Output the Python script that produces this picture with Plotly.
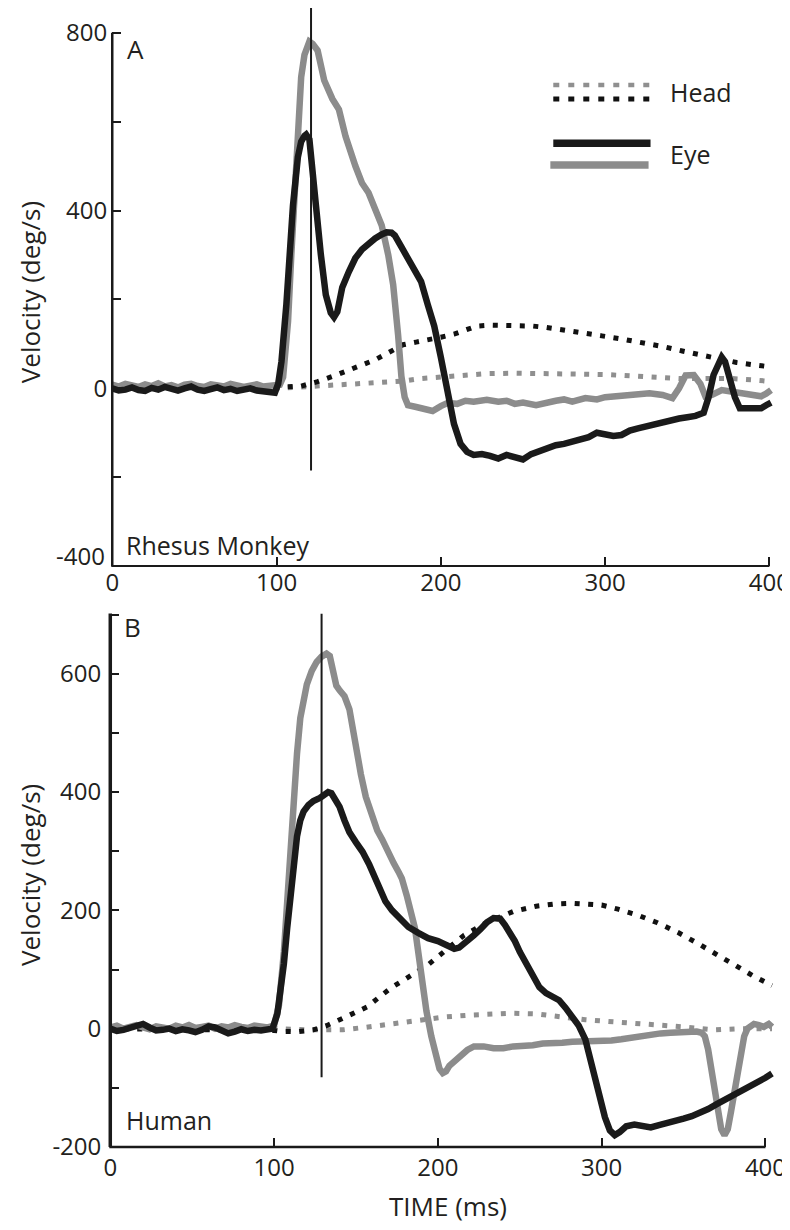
import plotly.graph_objects as go

# ---------------- DATA ----------------
# Panel A (Rhesus Monkey)
a_eye_blk_t = [0, 4, 8, 12, 16, 20, 24, 28, 32, 36, 40, 44, 48, 52, 56, 60, 64, 68, 72, 76, 80, 84, 88, 92, 96, 99,
               101, 103, 106, 108, 110, 113, 115, 117, 118, 120, 122, 124, 127, 130, 133, 135, 137, 140, 144, 148, 152,
               155, 160, 164, 167, 170, 172, 176, 180, 184, 188, 192, 196, 200, 204, 208, 212, 216, 220, 225, 230, 235,
               240, 245, 250, 255, 260, 265, 270, 275, 280, 285, 290, 295, 300, 305, 310, 315, 320, 325, 330, 335, 340,
               345, 350, 355, 360, 363, 366, 369, 371, 373, 376, 379, 382, 386, 390, 395, 398, 401]
a_eye_blk_v = [0, -5, -3, 2, -4, -6, 1, -3, 3, -2, -5, 0, 4, -3, -6, -2, 2, -4, -1, -6, -3, 0, -5, -8, -11, -10,
               10, 60, 189, 300, 411, 520, 555, 568, 571, 560, 500, 411, 300, 210, 170, 160, 172, 227, 262, 293, 312,
               322, 337, 346, 351, 350, 344, 318, 290, 265, 240, 189, 140, 70, -10, -80, -125, -143, -150, -148, -152,
               -158, -150, -155, -160, -148, -140, -135, -128, -125, -120, -115, -110, -100, -103, -107, -105, -95, -90,
               -85, -82, -75, -72, -68, -65, -62, -55, -20, 30, 60, 70, 60, 20, -20, -45, -45, -42, -45, -38, -32]

a_eye_gry_t = [0, 4, 8, 12, 16, 20, 24, 28, 32, 36, 40, 44, 48, 52, 56, 60, 64, 68, 72, 76, 80, 84, 88, 92, 96, 100,
               102, 104, 107, 109, 111, 113, 115, 117, 120, 122, 125, 129, 134, 138, 142, 148, 152, 156, 160, 164, 168,
               171, 174, 176, 178, 180, 185, 190, 195, 200, 204, 210, 215, 220, 228, 235, 240, 245, 250, 258, 265, 270,
               275, 280, 288, 295, 300, 310, 320, 327, 335, 341, 345, 349, 354, 358, 361, 365, 371, 377, 383, 390, 395,
               398, 401]
a_eye_gry_v = [8, 4, 10, 6, 3, 9, 5, 11, 4, 7, 2, 8, 10, 5, 3, 9, 6, 4, 10, 7, 3, 6, 9, 4, 6, 5,
               8, 25, 150, 300, 450, 600, 700, 750, 780, 775, 760, 693, 651, 627, 567, 500, 462, 440, 405, 367, 300,
               233, 120, 27, -20, -38, -42, -48, -51, -40, -33, -35, -28, -30, -26, -30, -28, -35, -32, -38, -30, -28,
               -25, -30, -22, -25, -20, -18, -14, -11, -15, -22, 0, 29, 30, 10, -18, -15, -4, -8, -11, -16, -18,
               -12, -4]

a_head_blk_t = [0, 25, 50, 75, 100, 115, 125, 135, 144, 152, 160, 168, 177, 185, 192, 200, 208, 215, 222, 230, 240,
                250, 256, 264, 272, 285, 298, 310, 322, 335, 347, 360, 371, 380, 390, 401]
a_head_blk_v = [2, 3, 3, 2, 2, 5, 15, 28, 40, 52, 64, 80, 98, 104, 108, 115, 122, 132, 140, 142, 141,
                142, 140, 137, 133, 126, 118, 111, 104, 94, 84, 73, 63, 58, 53, 48]

a_head_gry_t = [0, 25, 50, 75, 100, 110, 120, 130, 140, 150, 160, 170, 177, 188, 200, 215, 228, 245, 260, 275, 288,
                300, 315, 330, 345, 360, 377, 390, 399]
a_head_gry_v = [0, 1, 0, 1, 0, 2, 4, 5, 8, 10, 13, 15, 16, 22, 26, 30, 33, 34, 33, 33, 33,
                31, 28, 24, 22, 22, 22, 19, 16]

# Panel B (Human)
b_eye_blk_t = [0, 4, 8, 12, 16, 20, 24, 28, 32, 36, 40, 44, 48, 52, 56, 60, 64, 68, 72, 76, 80, 84, 88, 92, 96, 99,
               102, 104, 106, 108, 110, 112, 114, 116, 118, 121, 124, 128, 131, 133, 135, 137, 140, 143, 146, 150, 154,
               158, 162, 165, 168, 172, 176, 182, 188, 194, 200, 205, 210, 213, 217, 222, 226, 230, 234, 238, 241, 244,
               247, 250, 254, 258, 262, 266, 270, 274, 278, 282, 286, 290, 293, 296, 299, 302, 305, 308, 311, 315, 320,
               325, 330, 335, 340, 345, 350, 355, 360, 365, 370, 375, 380, 385, 390, 395, 400, 404]
b_eye_blk_v = [0, -4, -2, 1, 3, 8, 2, -3, -2, 0, -4, -1, -3, -6, -2, 4, 2, -3, -8, -5, -1, -4, -2, -3, -1, 0,
               25, 60, 110, 170, 230, 285, 325, 352, 367, 378, 385, 390, 398, 400, 398, 390, 375, 352, 332, 315, 299,
               278, 254, 230, 215, 200, 188, 172, 162, 153, 148, 142, 135, 137, 148, 158, 168, 180, 187, 186, 175, 162,
               148, 130, 108, 88, 70, 60, 54, 48, 35, 20, 5, -18, -50, -85, -120, -150, -172, -180, -175, -165, -162,
               -165, -167, -163, -160, -157, -152, -148, -143, -136, -128, -121, -113, -105, -97, -90, -83, -76]

b_eye_gry_t = [0, 4, 8, 12, 16, 20, 24, 28, 32, 36, 40, 44, 48, 52, 56, 60, 64, 68, 72, 76, 80, 84, 88, 92, 96, 100,
               103, 106, 108, 110, 112, 114, 116, 118, 120, 123, 126, 129, 132, 134, 136, 138, 140, 143, 146, 148, 150,
               153, 156, 160, 163, 166, 170, 173, 176, 178, 181, 184, 186, 188, 190, 193, 196, 199, 201, 203, 205, 207,
               210, 214, 218, 222, 228, 234, 240, 246, 252, 258, 264, 270, 276, 282, 288, 294, 300, 306, 312, 318, 324,
               330, 336, 342, 348, 354, 358, 361, 363, 365, 367, 369, 371, 373, 375, 377, 379, 381, 383, 385, 387, 389,
               391, 393, 396, 399, 402, 404]
b_eye_gry_v = [2, 5, 0, 3, 6, 2, -1, 4, 3, 0, 5, 2, 6, 1, 3, 5, 0, 4, 2, 6, 3, 1, 5, 4, 2, 5,
               40, 130, 220, 310, 395, 465, 525, 562, 582, 605, 620, 629, 634, 630, 600, 580, 572, 562, 540, 504, 470,
               430, 392, 355, 335, 320, 295, 280, 265, 254, 225, 195, 170, 130, 87, 30, -13, -50, -68, -75, -72, -63,
               -55, -45, -36, -30, -30, -33, -33, -30, -30, -28, -25, -25, -24, -22, -22, -22, -22, -20, -18, -15, -12,
               -10, -8, -7, -6, -5, -5, -7, -13, -35, -65, -100, -140, -170, -180, -170, -140, -108, -70, -35, -13, 0,
               6, 8, 6, 3, 8, 3]

b_head_blk_t = [0, 25, 50, 75, 100, 106, 115, 124, 132, 140, 148, 157, 165, 172, 179, 186, 194, 205, 216, 230, 246,
                260, 272, 282, 292, 300, 310, 322, 334, 347, 360, 370, 380, 392, 404]
b_head_blk_v = [0, -1, 0, -1, -3, -5, -5, -2, 5, 15, 25, 37, 55, 70, 82, 95, 108, 133, 158, 180, 198,
                207, 211, 212, 211, 209, 202, 192, 179, 162, 142, 125, 108, 90, 73]

b_head_gry_t = [0, 25, 50, 75, 100, 110, 120, 130, 142, 155, 170, 182, 190, 205, 220, 230, 245, 260, 275, 290, 310,
                330, 350, 369, 385, 404]
b_head_gry_v = [0, 1, 0, 1, 0, -2, -2, -2, -2, 2, 8, 12, 15, 20, 23, 25, 26, 25, 20, 15, 11,
                8, 3, -2, 0, 0]

# marker lines (saccade onset references)
a_marker_t = 121
a_marker_bottom = -185
b_marker_t = 129
b_marker_bottom = -82

x_ticks = [0, 100, 200, 300, 400]
a_y_ticks = [-400, -200, 0, 200, 400, 600, 800]
a_y_labels = ["", "", "0", "", "400", "", "800"]
a_y_bottom_label = "-400"
b_y_ticks = [-200, -100, 0, 100, 200, 300, 400, 500, 600, 700]
b_y_labels = ["-200", "", "0", "", "200", "", "400", "", "600", ""]

# ---------------- LAYOUT GEOMETRY (pixels) ----------------
W, H = 790, 1230
FONT = "Open Sans"
BLACK = "#1a1a1a"
GRAY = "#8c8c8c"
TXT = "#231f20"

# panel A anchors
A_X0, A_X400 = 99, 768
A_YM400, A_Y800 = 565, 25
# panel B anchors
B_X0, B_X400 = 97, 764
B_YM200, B_Y600 = 1153, 674
B_TOP = 613
X_MAX = 408


def fx(px):
    return px / W


def fy(py):
    return 1 - py / H


a_kx = (A_X400 - A_X0) / 400
a_ky = (A_YM400 - A_Y800) / 1200
a_ytop = -400 + A_YM400 / a_ky
b_kx = (B_X400 - B_X0) / 400
b_ky = (B_YM200 - B_Y600) / 800
b_ytop = -200 + (B_YM200 - B_TOP) / b_ky

fig = go.Figure()


def add(x, y, color, width, dash, xa, ya):
    fig.add_trace(go.Scatter(x=x, y=y, mode="lines", xaxis=xa, yaxis=ya, showlegend=False,
                             line=dict(color=color, width=width, dash=dash), hoverinfo="skip"))


DOT = "5px,8.5px"
# Panel A
add(a_head_gry_t, a_head_gry_v, "#8f8f8f", 5, DOT, "x", "y")
add(a_head_blk_t, a_head_blk_v, "#111111", 5, DOT, "x", "y")
add(a_eye_gry_t, a_eye_gry_v, GRAY, 6.5, "solid", "x", "y")
add(a_eye_blk_t, a_eye_blk_v, BLACK, 6.5, "solid", "x", "y")
# Panel B
add(b_head_gry_t, b_head_gry_v, "#8f8f8f", 5, DOT, "x2", "y2")
add(b_head_blk_t, b_head_blk_v, "#111111", 5, DOT, "x2", "y2")
add(b_eye_gry_t, b_eye_gry_v, GRAY, 6.5, "solid", "x2", "y2")
add(b_eye_blk_t, b_eye_blk_v, BLACK, 6.5, "solid", "x2", "y2")

tickfont = dict(family=FONT, size=24, color=TXT)
common = dict(showgrid=False, zeroline=False, showline=False, ticks="inside", ticklen=9,
              tickwidth=2, tickcolor=BLACK, tickfont=tickfont)

fig.update_layout(
    width=W, height=H, margin=dict(l=0, r=0, t=0, b=0),
    paper_bgcolor="white", plot_bgcolor="white",
    xaxis=dict(domain=[fx(A_X0), fx(A_X0 + X_MAX * a_kx)], range=[0, X_MAX], anchor="y",
               tickvals=x_ticks, ticktext=[str(v) for v in x_ticks], **common),
    yaxis=dict(domain=[fy(A_YM400), 1], range=[-400, a_ytop], anchor="x", ticklabelstandoff=4,
               tickvals=a_y_ticks, ticktext=a_y_labels, **common),
    xaxis2=dict(domain=[fx(B_X0), fx(B_X0 + X_MAX * b_kx)], range=[0, X_MAX], anchor="y2",
                ticklabelstandoff=4,
                tickvals=x_ticks, ticktext=[str(v) for v in x_ticks], **common),
    yaxis2=dict(domain=[fy(B_YM200), fy(B_TOP)], range=[-200, b_ytop], anchor="x2", ticklabelstandoff=8,
                tickvals=b_y_ticks, ticktext=b_y_labels, **common),
)

shapes = []
# axis lines (paper coords)
shapes.append(dict(type="line", xref="paper", yref="paper", x0=fx(A_X0), x1=fx(A_X0),
                   y0=fy(A_YM400), y1=fy(A_Y800), line=dict(color=BLACK, width=2.5)))
shapes.append(dict(type="line", xref="paper", yref="paper", x0=fx(A_X0 - 1), x1=fx(A_X400),
                   y0=fy(A_YM400), y1=fy(A_YM400), line=dict(color=BLACK, width=2)))
shapes.append(dict(type="line", xref="paper", yref="paper", x0=fx(B_X0), x1=fx(B_X0),
                   y0=fy(B_YM200), y1=fy(B_TOP), line=dict(color=BLACK, width=3.5)))
shapes.append(dict(type="line", xref="paper", yref="paper", x0=fx(B_X0 - 1), x1=fx(B_X400),
                   y0=fy(B_YM200), y1=fy(B_YM200), line=dict(color=BLACK, width=2.5)))
# onset marker lines
shapes.append(dict(type="line", xref="x", yref="y", x0=a_marker_t, x1=a_marker_t,
                   y0=a_marker_bottom, y1=a_ytop, line=dict(color=BLACK, width=2)))
shapes.append(dict(type="line", xref="x2", yref="y2", x0=b_marker_t, x1=b_marker_t,
                   y0=b_marker_bottom, y1=b_ytop, line=dict(color=BLACK, width=2)))
# legend glyphs
shapes.append(dict(type="line", xref="paper", yref="paper", x0=fx(548), x1=fx(650), y0=fy(78), y1=fy(78),
                   line=dict(color="#8f8f8f", width=4.5, dash="6px,9px")))
shapes.append(dict(type="line", xref="paper", yref="paper", x0=fx(548), x1=fx(650), y0=fy(92), y1=fy(92),
                   line=dict(color="#111111", width=5, dash="6px,9px")))
shapes.append(dict(type="line", xref="paper", yref="paper", x0=fx(548), x1=fx(647), y0=fy(137), y1=fy(137),
                   line=dict(color=BLACK, width=7.5)))
shapes.append(dict(type="line", xref="paper", yref="paper", x0=fx(545), x1=fx(645), y0=fy(159), y1=fy(159),
                   line=dict(color=GRAY, width=7.5)))
fig.update_layout(shapes=shapes)


def note(text, px, py, size=25, xanchor="left", angle=0):
    fig.add_annotation(text=text, xref="paper", yref="paper", x=fx(px), y=fy(py), showarrow=False,
                       xanchor=xanchor, yanchor="middle", textangle=angle,
                       font=dict(family=FONT, size=size, color=TXT))


note("A", 112, 42, 26)
note("B", 109, 627, 26)
note("Head", 665, 85, 25)
note("Eye", 665, 148, 25)
note("Rhesus Monkey", 111, 544, 25)
note("Human", 111, 1126, 25)
note("TIME (ms)", 441, 1213, 26, xanchor="center")
note("Velocity (deg/s)", 16, 288, 26, xanchor="center", angle=-90)
note("Velocity (deg/s)", 16, 878, 26, xanchor="center", angle=-90)
note(a_y_bottom_label, 94, 554, 24, xanchor="right")

fig.write_html("out.html")
